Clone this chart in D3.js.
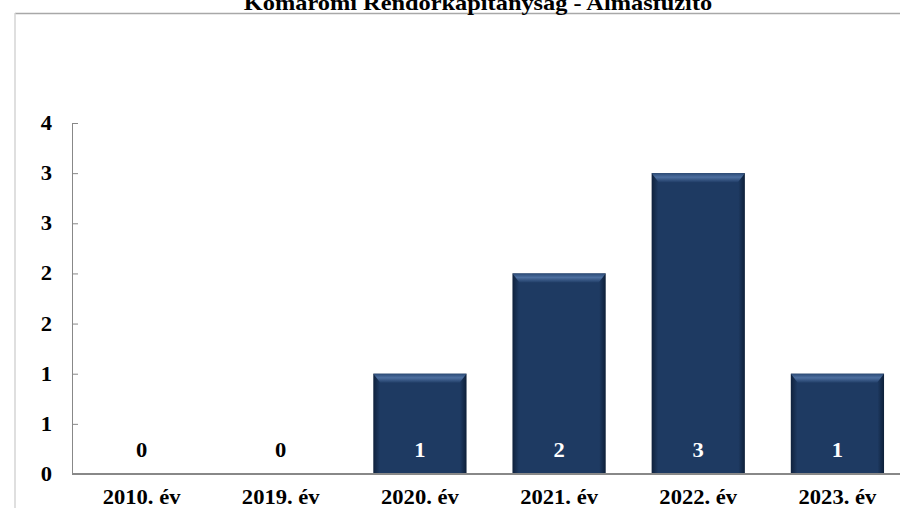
<!DOCTYPE html>
<html>
<head>
<meta charset="utf-8">
<script src="https://cdn.jsdelivr.net/npm/d3@7"></script>
<style>
  body { margin: 0; background: #fff; }
  svg { display: block; }
  text { font-family: "Liberation Serif", "Times New Roman", serif; font-weight: bold; }
</style>
</head>
<body>
<svg id="chart" width="900" height="508"></svg>
<script>
var title = "Komáromi Rendőrkapitányság - Almásfüzitő";
var years = ["2010. év", "2019. év", "2020. év", "2021. év", "2022. év", "2023. év"];
var counts = [0, 0, 1, 2, 3, 1];
var yTicks = [0, 0.5, 1, 1.5, 2, 2.5, 3, 3.5];

var svg = d3.select("#chart"),
  sx = 1.13; // the reference text is stretched sideways

var x = d3.scaleBand()
  .domain(years)
  .range([72, 907])
  .paddingInner(0.33)
  .paddingOuter(0.165);

var y = d3.scaleLinear()
  .domain([0, 3.5])
  .range([474, 123]);

var defs = svg.append("defs");
var sideGrad = defs.append("linearGradient").attr("id", "barSide");
sideGrad.append("stop").attr("offset", "0%").attr("stop-color", "#0f213c");
sideGrad.append("stop").attr("offset", "7%").attr("stop-color", "#1e3a62");
sideGrad.append("stop").attr("offset", "93%").attr("stop-color", "#1e3a62");
sideGrad.append("stop").attr("offset", "100%").attr("stop-color", "#0d1f38");
var topGrad = defs.append("linearGradient").attr("id", "barTop")
  .attr("x1", 0).attr("y1", 0).attr("x2", 0).attr("y2", 1);
topGrad.append("stop").attr("offset", "0%").attr("stop-color", "#2b4a76");
topGrad.append("stop").attr("offset", "45%").attr("stop-color", "#4d6f9f");
topGrad.append("stop").attr("offset", "100%").attr("stop-color", "#223f69");

// frame
svg.append("line").attr("x1", 15).attr("x2", 900).attr("y1", 13.5).attr("y2", 13.5)
  .attr("stroke", "#a8a8a8").attr("stroke-width", 1.5);
svg.append("line").attr("x1", 15).attr("x2", 15).attr("y1", 13).attr("y2", 508)
  .attr("stroke", "#d4d4d4").attr("stroke-width", 1.5);

function stretched(sel, px, py, k) {
  return sel.attr("transform", "translate(" + px + "," + py + ") scale(" + (k || sx) + ",1)");
}

stretched(svg.append("text"), 478, 10, 1.16)
  .attr("text-anchor", "middle")
  .style("font-size", "21px")
  .text(title);

// y axis
var yAxis = svg.append("g")
  .attr("transform", "translate(72,0)")
  .call(d3.axisLeft(y).tickValues(yTicks).tickSizeInner(-6).tickSizeOuter(0).tickFormat(""));
yAxis.select(".domain").attr("stroke", "#888");
yAxis.selectAll(".tick line").attr("stroke", "#888");

svg.append("g").selectAll("text")
  .data(yTicks)
  .enter().append("text")
  .each(function(d) { stretched(d3.select(this), 52, y(d) + 7); })
  .attr("text-anchor", "end")
  .style("font-size", "20px")
  .text(function(d) { return Math.round(d); });

// bars
var bars = svg.append("g").selectAll("g")
  .data(years.map(function(k, i) { return { year: k, value: counts[i] }; }))
  .enter().append("g")
  .filter(function(d) { return d.value > 0; });

bars.append("rect")
  .attr("x", function(d) { return x(d.year); })
  .attr("y", function(d) { return y(d.value); })
  .attr("width", x.bandwidth())
  .attr("height", function(d) { return y(0) - y(d.value); })
  .attr("fill", "url(#barSide)");

bars.append("path")
  .attr("d", function(d) {
    var x0 = x(d.year), x1 = x0 + x.bandwidth(), t = y(d.value);
    return "M" + x0 + "," + t + "L" + x1 + "," + t + "L" + (x1 - 7) + "," + (t + 9) +
      "L" + (x0 + 7) + "," + (t + 9) + "Z";
  })
  .attr("fill", "url(#barTop)");

// baseline
svg.append("line")
  .attr("x1", 72).attr("x2", 900)
  .attr("y1", y(0)).attr("y2", y(0))
  .attr("stroke", "#888").attr("stroke-width", 2);

// value labels
svg.append("g").selectAll("text")
  .data(counts)
  .enter().append("text")
  .each(function(d, i) { stretched(d3.select(this), x(years[i]) + x.bandwidth() / 2, 457); })
  .attr("text-anchor", "middle")
  .attr("fill", function(d) { return d > 0 ? "#fff" : "#000"; })
  .style("font-size", "20px")
  .text(function(d) { return d; });

// category labels
svg.append("g").selectAll("text")
  .data(years)
  .enter().append("text")
  .each(function(d) { stretched(d3.select(this), x(d) + x.bandwidth() / 2, 504); })
  .attr("text-anchor", "middle")
  .style("font-size", "20px")
  .text(function(d) { return d; });
</script>
</body>
</html>
